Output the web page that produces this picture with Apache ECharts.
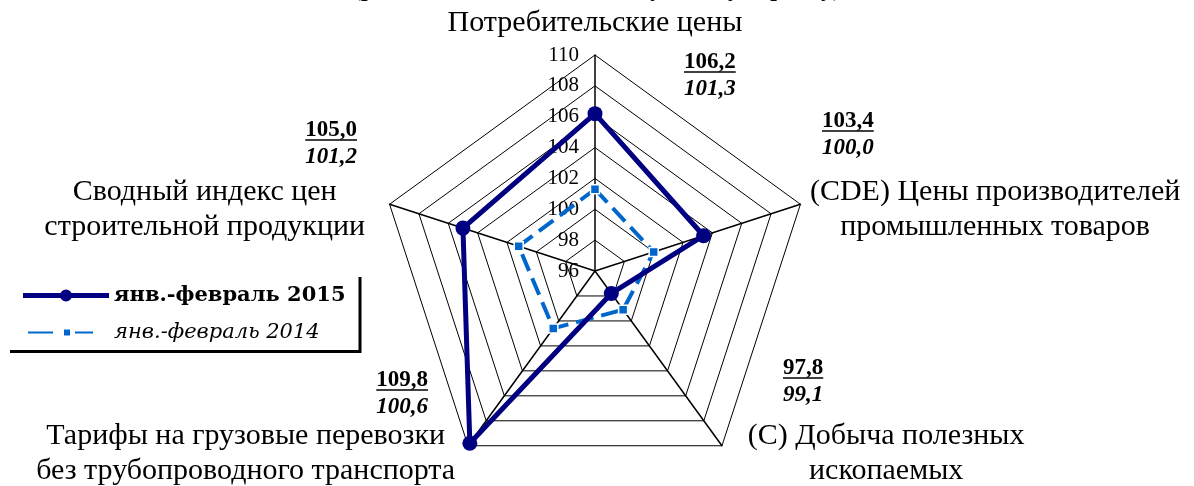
<!DOCTYPE html>
<html>
<head>
<meta charset="utf-8">
<script src="https://cdn.jsdelivr.net/npm/echarts@6/dist/echarts.min.js"></script>
<style>
  html, body { margin: 0; padding: 0; background: #fff; }
  #main { width: 1194px; height: 486px; }
</style>
</head>
<body>
<div id="main"></div>
<script>
// indicators go counter-clockwise from the top
var indicatorNames = [
  "Потребительские цены",
  "Сводный индекс цен\nстроительной продукции",
  "Тарифы на грузовые перевозки\nбез трубопроводного транспорта",
  "(С) Добыча полезных\nископаемых",
  "(CDE) Цены производителей\nпромышленных товаров"
];
var values2015 = [106.2, 105.0, 109.8, 97.8, 103.4];
var values2014 = [101.3, 101.2, 100.6, 99.1, 100.0];
var seriesNames = ["янв.-февраль 2015", "янв.-февраль 2014"];
var axisMin = 96, axisMax = 110, axisSplit = 7;

var serif = "Liberation Serif";
var navy = "#000080", blue = "#0066CC";

function fmt(v) { return v.toFixed(1).replace(".", ","); }

// text width helper for the underlines
var ctx = document.createElement("canvas").getContext("2d");
function textW(txt, font) { ctx.font = font; return ctx.measureText(txt).width; }

// where the value pairs sit next to each axis end: x, y, align
var valuePos = [
  [684, 62, "left"],
  [357, 130, "right"],
  [428, 380, "right"],
  [783, 368, "left"],
  [822, 121, "left"]
];
var boldFont = "bold 23px " + serif;
var graphics = [];
valuePos.forEach(function (p, i) {
  var a = fmt(values2015[i]), b = fmt(values2014[i]);
  var w = textW(a, boldFont);
  var x0 = p[2] === "left" ? p[0] : p[0] - w;
  graphics.push({
    type: "text",
    style: { text: a, font: boldFont, fill: "#000", textAlign: p[2], textVerticalAlign: "middle", x: p[0], y: p[1] }
  });
  graphics.push({
    type: "line",
    shape: { x1: x0, y1: p[1] + 10, x2: x0 + w, y2: p[1] + 10 },
    style: { stroke: "#000", lineWidth: 1.5 }
  });
  graphics.push({
    type: "text",
    style: { text: b, font: "italic bold 23px " + serif, fill: "#000", textAlign: p[2], textVerticalAlign: "middle", x: p[0], y: p[1] + 27 }
  });
});

// nudges for the axis name blocks: spacer above, spacer below, right pad, left pad
var nameNudge = [
  [0, 4, 0, 0],
  [16, 0, 15, 0],
  [0, 0, 7, 0],
  [0, 0, 0, 20],
  [16, 0, 0, 0]
];
var nameRich = {};
indicatorNames.forEach(function (n, i) {
  var d = nameNudge[i];
  nameRich["n" + i] = {
    align: "center", fontFamily: serif, fontSize: 30, lineHeight: 35, color: "#000",
    padding: [0, d[2], 0, d[3]]
  };
  nameRich["t" + i] = { fontSize: 1, lineHeight: d[0] };
  nameRich["b" + i] = { fontSize: 1, lineHeight: d[1] };
});

var icon2015 = "path://M0,3.5H38V8.5H0Z M48,3.5H86V8.5H48Z M37,6A6,6 0 1,1 49,6A6,6 0 1,1 37,6Z";
var icon2014 = "path://M0,0M86,12M4,4H31V8H4Z M40,2H48V10H40Z M51,4H71V8H51Z";

var chart = echarts.init(document.getElementById("main"));
chart.setOption({
  backgroundColor: "#fff",
  animation: false,
  title: {
    text: "(рост цен, в % к соответствующему периоду)",
    left: "center",
    top: -27,
    textStyle: { fontFamily: serif, fontWeight: "bold", fontSize: 24, color: "#000" }
  },
  legend: {
    orient: "vertical",
    left: 7,
    top: 274,
    padding: [11, 13, 7, 15],
    itemWidth: 86,
    itemHeight: 12,
    itemGap: 16,
    symbolKeepAspect: false,
    backgroundColor: "#fff",
    shadowColor: "#000",
    shadowBlur: 0,
    shadowOffsetX: 3,
    shadowOffsetY: 3,
    textStyle: { fontFamily: "DejaVu Serif", color: "#000" },
    data: [
      { name: seriesNames[0], icon: icon2015, textStyle: { fontWeight: "bold", fontSize: 21 } },
      { name: seriesNames[1], icon: icon2014, textStyle: { fontStyle: "italic", fontSize: 21 } }
    ]
  },
  radar: {
    center: [595, 271],
    radius: 216,
    startAngle: 90,
    shape: "polygon",
    splitNumber: axisSplit,
    nameGap: 10,
    indicator: indicatorNames.map(function (n, i) {
      return { name: n, min: axisMin, max: axisMax, axisLabel: { show: i === 0 } };
    }),
    axisName: {
      color: "#000",
      fontFamily: serif,
      fontSize: 30,
      formatter: function (name) {
        var i = indicatorNames.indexOf(name);
        var d = nameNudge[i];
        var parts = name.split("\n").map(function (l) { return "{n" + i + "|" + l + "}"; });
        if (d[0]) parts.unshift("{t" + i + "| }");
        if (d[1]) parts.push("{b" + i + "| }");
        return parts.join("\n");
      },
      rich: nameRich
    },
    axisLine: { lineStyle: { color: "#000", width: 1.5 } },
    splitLine: { lineStyle: { color: "#000", width: 1 } },
    splitArea: { show: false },
    axisTick: { show: false },
    axisLabel: {
      show: true,
      color: "#000",
      fontFamily: serif,
      fontSize: 21,
      margin: 16
    }
  },
  graphic: graphics,
  series: [{
    type: "radar",
    data: [
      {
        name: seriesNames[1],
        value: values2014,
        symbol: "rect",
        symbolSize: 9,
        lineStyle: { color: blue, width: 4, type: [18, 8] },
        itemStyle: { color: blue, borderColor: "#fff", borderWidth: 1.5 }
      },
      {
        name: seriesNames[0],
        value: values2015,
        symbol: "circle",
        symbolSize: 15,
        lineStyle: { color: navy, width: 5 },
        itemStyle: { color: navy }
      }
    ]
  }]
});
</script>
</body>
</html>
